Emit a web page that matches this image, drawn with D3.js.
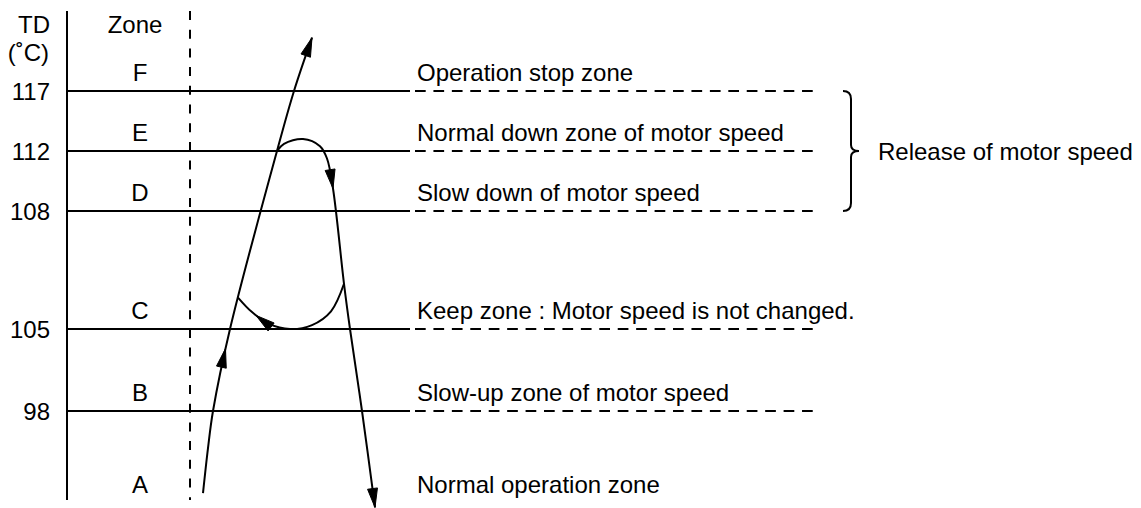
<!DOCTYPE html>
<html>
<head>
<meta charset="utf-8">
<script src="https://cdn.jsdelivr.net/npm/d3@7"></script>
<style>
  html, body { margin: 0; padding: 0; background: #fff; }
  svg text { font-family: "Liberation Sans", Arial, sans-serif; font-size: 24px; fill: #000; }
</style>
</head>
<body>
<svg id="chart" width="1141" height="508"></svg>
<script>
// ---------------- data ----------------
const thresholds = [117, 112, 108, 105, 98];               // TD boundaries (°C)
const axisTop = 120, axisBottom = 92;                       // extent of the TD axis
const zoneLetters = ["F", "E", "D", "C", "B", "A"];
const zoneTexts = [
  "Operation stop zone",
  "Normal down zone of motor speed",
  "Slow down of motor speed",
  "Keep zone : Motor speed is not changed.",
  "Slow-up zone of motor speed",
  "Normal operation zone"
];
const braceRange = [117, 108];
const braceLabel = "Release of motor speed";
const axisTitle = ["TD", "(˚C)"];
const zoneTitle = "Zone";

// trajectories: time (arbitrary units) vs TD
const riseT    = [13, 18, 23, 40, 87, 104, 122];
const riseTD   = [92.47, 95.5, 98, 105, 112, 117, 119.0];
const fallT    = [87, 94, 113, 130, 137, 143, 154, 160, 172, 185];
const fallTD   = [112, 112.6, 113, 112.4, 111.5, 109.5, 106.15, 105, 98, 91.5];
const loopT    = [154, 141, 122, 100, 79, 62, 48];
const loopTD   = [106.15, 105.45, 105.1, 105, 105.13, 105.43, 105.8];
// arrowheads: which trajectory and at which time (null = end of path)
const arrowTrack = ["rise", "rise", "fall", "fall", "loop"];
const arrowTime  = [35.5, null, 143, null, 66];

// ---------------- layout ----------------
const svg = d3.select("#chart");
const axisX = 67, zoneDivX = 190, solidEndX = 410, dashStartX = 415, dashEndX = 813;
const y = d3.scaleLinear()
  .domain([axisTop, ...thresholds, axisBottom])
  .range([11, 91, 151, 211, 329, 411, 500]);
const x = d3.scaleLinear().domain([0, 225]).range([190, 415]);

const ink = "#000";

// axis line
svg.append("line").attr("x1", axisX).attr("x2", axisX)
  .attr("y1", y(axisTop)).attr("y2", y(axisBottom))
  .attr("stroke", ink).attr("stroke-width", 2);

// zone divider (dashed)
svg.append("line").attr("x1", zoneDivX).attr("x2", zoneDivX)
  .attr("y1", y(axisTop)).attr("y2", y(axisBottom))
  .attr("stroke", ink).attr("stroke-width", 2)
  .attr("stroke-dasharray", "9,9.7");

// threshold lines
const th = svg.append("g").selectAll("g").data(thresholds).join("g");
th.append("line").attr("x1", axisX).attr("x2", solidEndX)
  .attr("y1", d => y(d)).attr("y2", d => y(d))
  .attr("stroke", ink).attr("stroke-width", 2);
th.append("line").attr("x1", dashStartX).attr("x2", dashEndX)
  .attr("y1", d => y(d)).attr("y2", d => y(d))
  .attr("stroke", ink).attr("stroke-width", 2)
  .attr("stroke-dasharray", "10.7,7.73");
th.append("text").attr("x", 50).attr("y", d => y(d) + 8.5)
  .attr("text-anchor", "end").text(d => d);

// titles
svg.append("text").attr("x", 50).attr("y", 33).attr("text-anchor", "end").text(axisTitle[0]);
svg.append("text").attr("x", 49).attr("y", 61).attr("text-anchor", "end").text(axisTitle[1]);
svg.append("text").attr("x", 135).attr("y", 33).attr("text-anchor", "middle").text(zoneTitle);

// zone letters and descriptions
const zoneBase = (i) => i < thresholds.length ? y(thresholds[i]) - 10 : y(axisBottom) - 7;
svg.append("g").selectAll("text").data(zoneLetters).join("text")
  .attr("x", 140).attr("y", (d, i) => zoneBase(i))
  .attr("text-anchor", "middle").text(d => d);
svg.append("g").selectAll("text").data(zoneTexts).join("text")
  .attr("x", 417).attr("y", (d, i) => zoneBase(i)).text(d => d);

// brace
const bTop = y(braceRange[0]), bBot = y(braceRange[1]), bMid = (bTop + bBot) / 2;
const bx0 = 843, bx1 = 851, bx2 = 859;
svg.append("path")
  .attr("d", `M${bx0},${bTop} Q${bx1},${bTop} ${bx1},${bTop + 8} L${bx1},${bMid - 6} Q${bx1},${bMid} ${bx2},${bMid}` +
             ` Q${bx1},${bMid} ${bx1},${bMid + 6} L${bx1},${bBot - 8} Q${bx1},${bBot} ${bx0},${bBot}`)
  .attr("fill", "none").attr("stroke", ink).attr("stroke-width", 2);
svg.append("text").attr("x", 878).attr("y", bMid + 8.5).text(braceLabel);

// trajectories
const line = d3.line().x(d => x(d[0])).y(d => y(d[1])).curve(d3.curveCatmullRom.alpha(0.5));
const tracks = {
  rise: d3.zip(riseT, riseTD),
  fall: d3.zip(fallT, fallTD),
  loop: d3.zip(loopT, loopTD)
};
const pathNodes = {};
Object.entries(tracks).forEach(([k, pts]) => {
  pathNodes[k] = svg.append("path").attr("d", line(pts))
    .attr("fill", "none").attr("stroke", ink).attr("stroke-width", 2).node();
});

// arrowheads
const ahLen = 19, ahHalf = 5;
arrowTrack.forEach((k, i) => {
  const p = pathNodes[k];
  const total = p.getTotalLength();
  let L = total;
  if (arrowTime[i] !== null) {
    const tx = x(arrowTime[i]);
    const startX = p.getPointAtLength(0).x;
    const dir = p.getPointAtLength(total).x > startX ? 1 : -1;
    let lo = 0, hi = total;
    for (let n = 0; n < 40; n++) {
      const mid = (lo + hi) / 2;
      const px = p.getPointAtLength(mid).x;
      if ((px - tx) * dir < 0) lo = mid; else hi = mid;
    }
    L = (lo + hi) / 2;
  }
  const tip = p.getPointAtLength(L);
  const back = p.getPointAtLength(Math.max(0, L - 6));
  let dx = tip.x - back.x, dy = tip.y - back.y;
  const m = Math.hypot(dx, dy) || 1; dx /= m; dy /= m;
  const bx = tip.x - dx * ahLen, by = tip.y - dy * ahLen;
  const nx = -dy, ny = dx;
  svg.append("path")
    .attr("d", `M${tip.x},${tip.y} L${bx + nx * ahHalf},${by + ny * ahHalf} L${bx - nx * ahHalf},${by - ny * ahHalf} Z`)
    .attr("fill", ink).attr("stroke", ink).attr("stroke-width", 1);
});
</script>
</body>
</html>
